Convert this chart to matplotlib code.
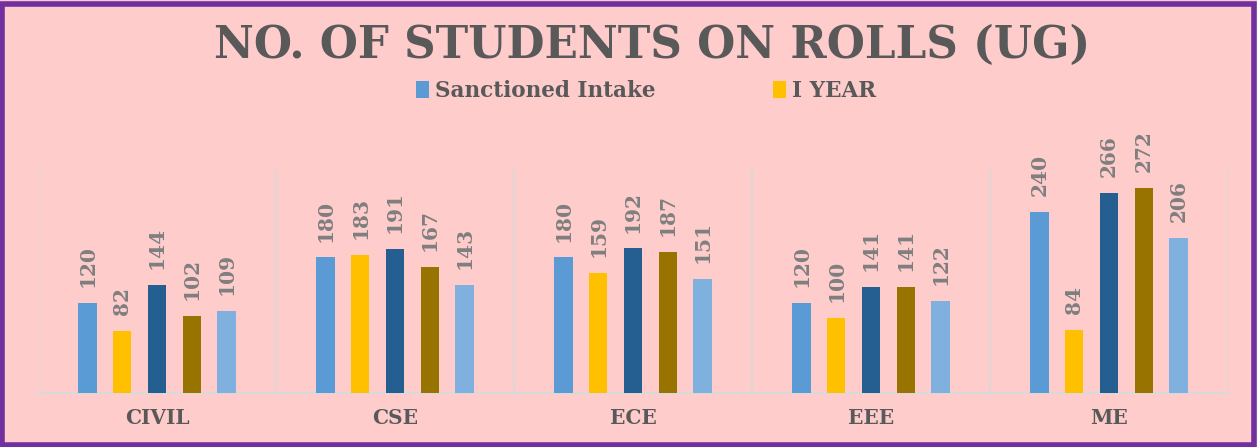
import matplotlib
matplotlib.use("Agg")
import matplotlib.pyplot as plt
import numpy as np
from matplotlib.patches import Rectangle

categories = ["CIVIL", "CSE", "ECE", "EEE", "ME"]
series_names = ["Sanctioned Intake", "I YEAR", "II YEAR", "III YEAR", "IV YEAR"]
sanctioned = [120, 180, 180, 120, 240]
year1 = [82, 183, 159, 100, 84]
year2 = [144, 191, 192, 141, 266]
year3 = [102, 167, 187, 141, 272]
year4 = [109, 143, 151, 122, 206]
series = [sanctioned, year1, year2, year3, year4]
colors = ["#5B9BD5", "#FFC000", "#255E91", "#997300", "#7FB0DE"]

bg = "#FFCCCC"
fig = plt.figure(figsize=(12.57, 4.47), dpi=100, facecolor=bg)
ax = fig.add_axes([38/1257, 54/447, 1190/1257, 226/447])
ax.set_facecolor(bg)

x = np.arange(len(categories))
width = 0.077
step = 0.146
for i, (vals, c) in enumerate(zip(series, colors)):
    pos = x + (i - 2) * step
    bars = ax.bar(pos, vals, width=width, color=c, label=series_names[i], zorder=3)
    for b, v in zip(bars, vals):
        ax.text(b.get_x() + b.get_width()/2, v + 300*0.07, str(v), rotation=90,
                ha="center", va="bottom", fontsize=14.5, fontweight="bold",
                family="DejaVu Serif", color="#7F7F7F", zorder=4)

ax.set_xlim(-0.5, len(categories) - 0.5)
ax.set_ylim(0, 300)
for b in np.arange(-0.5, len(categories), 1.0):
    ax.axvline(b, color="#D9D9D9", lw=1.2, zorder=1)
for s in ["top", "right", "left"]:
    ax.spines[s].set_visible(False)
ax.spines["bottom"].set_color("#D9D9D9")
ax.spines["bottom"].set_linewidth(1.5)
ax.set_yticks([])
ax.set_xticks(x)
ax.set_xticklabels(categories, fontsize=14.5, fontweight="bold", family="DejaVu Serif", color="#595959")
ax.tick_params(axis="x", length=0, pad=11)

fig.text(652/1257, 1 - 45/447, "NO. OF STUDENTS ON ROLLS (UG)", ha="center", va="center",
         fontsize=31.5, fontweight="bold", family="DejaVu Serif", color="#595959")

handles, labels = ax.get_legend_handles_labels()
leg = fig.legend(handles[:2], labels[:2], loc="center", bbox_to_anchor=(0.514, 1 - 91/447),
                 ncol=2, frameon=False, handlelength=0.6, handleheight=0.85, handletextpad=0.25,
                 columnspacing=5.5, prop={"family": "DejaVu Serif", "weight": "bold", "size": 15.5})
for t in leg.get_texts():
    t.set_color("#595959")

fig.patches.append(Rectangle((2/1257, 2/447), 1252/1257, 441/447, transform=fig.transFigure,
                             fill=False, edgecolor="#7030A0", linewidth=4))

fig.savefig("out.png", dpi=100, facecolor=bg)
